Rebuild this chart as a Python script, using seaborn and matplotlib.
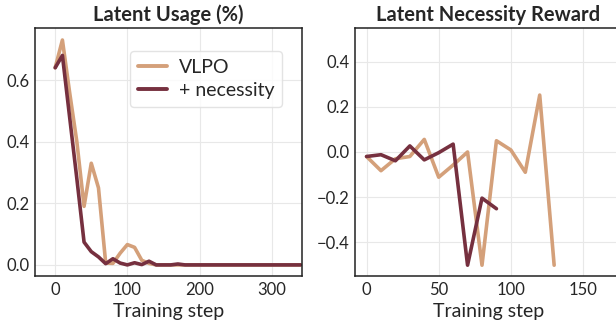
import numpy as np
import pandas as pd
import matplotlib
matplotlib.use("Agg")
import matplotlib.pyplot as plt
import seaborn as sns

# Latent usage (left panel), steps every 10
usage_steps = list(range(0, 350, 10))
usage_vlpo = [0.64, 0.73, 0.56, 0.40, 0.19, 0.33, 0.25, 0.006, 0.005, 0.038,
              0.066, 0.057, 0.015, 0.005] + [0.0] * 21
usage_necessity = [0.64, 0.68, 0.48, 0.28, 0.074, 0.043, 0.026, 0.004, 0.02, 0.006,
                   0.0, 0.007, 0.001, 0.012, 0.0, 0.0, 0.0, 0.003] + [0.0] * 17

# Latent necessity reward (right panel)
reward_steps_vlpo = list(range(0, 140, 10))
reward_vlpo = [-0.02, -0.083, -0.03, -0.02, 0.056, -0.112, -0.058, 0.0,
               -0.503, 0.05, 0.009, -0.09, 0.253, -0.503]
reward_steps_nec = list(range(0, 100, 10))
reward_necessity = [-0.02, -0.012, -0.039, 0.027, -0.035, -0.003, 0.035,
                    -0.503, -0.205, -0.252]

colors = {"VLPO": "#D4A07A", "+ necessity": "#76303F"}

usage = pd.concat([
    pd.DataFrame({"step": usage_steps, "value": usage_vlpo, "method": "VLPO"}),
    pd.DataFrame({"step": usage_steps, "value": usage_necessity, "method": "+ necessity"}),
])
reward = pd.concat([
    pd.DataFrame({"step": reward_steps_vlpo, "value": reward_vlpo, "method": "VLPO"}),
    pd.DataFrame({"step": reward_steps_nec, "value": reward_necessity, "method": "+ necessity"}),
])

sns.set_style("whitegrid")
plt.rcParams["font.family"] = ["Lato", "DejaVu Sans"]
plt.rcParams["axes.edgecolor"] = "#222222"
plt.rcParams["grid.color"] = "#E8E8E8"

fig = plt.figure(figsize=(6.16, 3.2), dpi=100)
ax1 = fig.add_axes([0.0568, 0.1375, 0.4334, 0.775])
ax2 = fig.add_axes([0.5763, 0.1375, 0.4334, 0.775])

sns.lineplot(data=usage, x="step", y="value", hue="method", palette=colors,
             linewidth=2.6, ax=ax1)
sns.lineplot(data=reward, x="step", y="value", hue="method", palette=colors,
             linewidth=2.6, ax=ax2, legend=False)

ax1.set_title("Latent Usage (%)", fontsize=14.5, fontweight="bold", pad=5)
ax2.set_title("Latent Necessity Reward", fontsize=14.5, fontweight="bold", pad=5)

ax1.set_xlim(-28, 342)
ax1.set_ylim(-0.036, 0.769)
ax1.set_xticks([0, 100, 200, 300])
ax1.set_yticks([0.0, 0.2, 0.4, 0.6])

ax2.set_xlim(-8, 177)
ax2.set_ylim(-0.551, 0.551)
ax2.set_xticks([0, 50, 100, 150])
ax2.set_yticks([-0.4, -0.2, 0.0, 0.2, 0.4])

for ax in (ax1, ax2):
    ax.set_xlabel("Training step", fontsize=14)
    ax.set_ylabel("")
    ax.tick_params(labelsize=12, length=0, pad=4)
    for s in ax.spines.values():
        s.set_linewidth(1.1)

leg = ax1.legend(loc="upper right", fontsize=14, frameon=True, handlelength=1.5,
                 handletextpad=0.6, borderpad=0.4, labelspacing=0.3,
                 bbox_to_anchor=(0.963, 0.945))
leg.get_frame().set_edgecolor("#DDDDDD")
for line in leg.get_lines():
    line.set_linewidth(2.8)

fig.savefig("out.png", dpi=100)
